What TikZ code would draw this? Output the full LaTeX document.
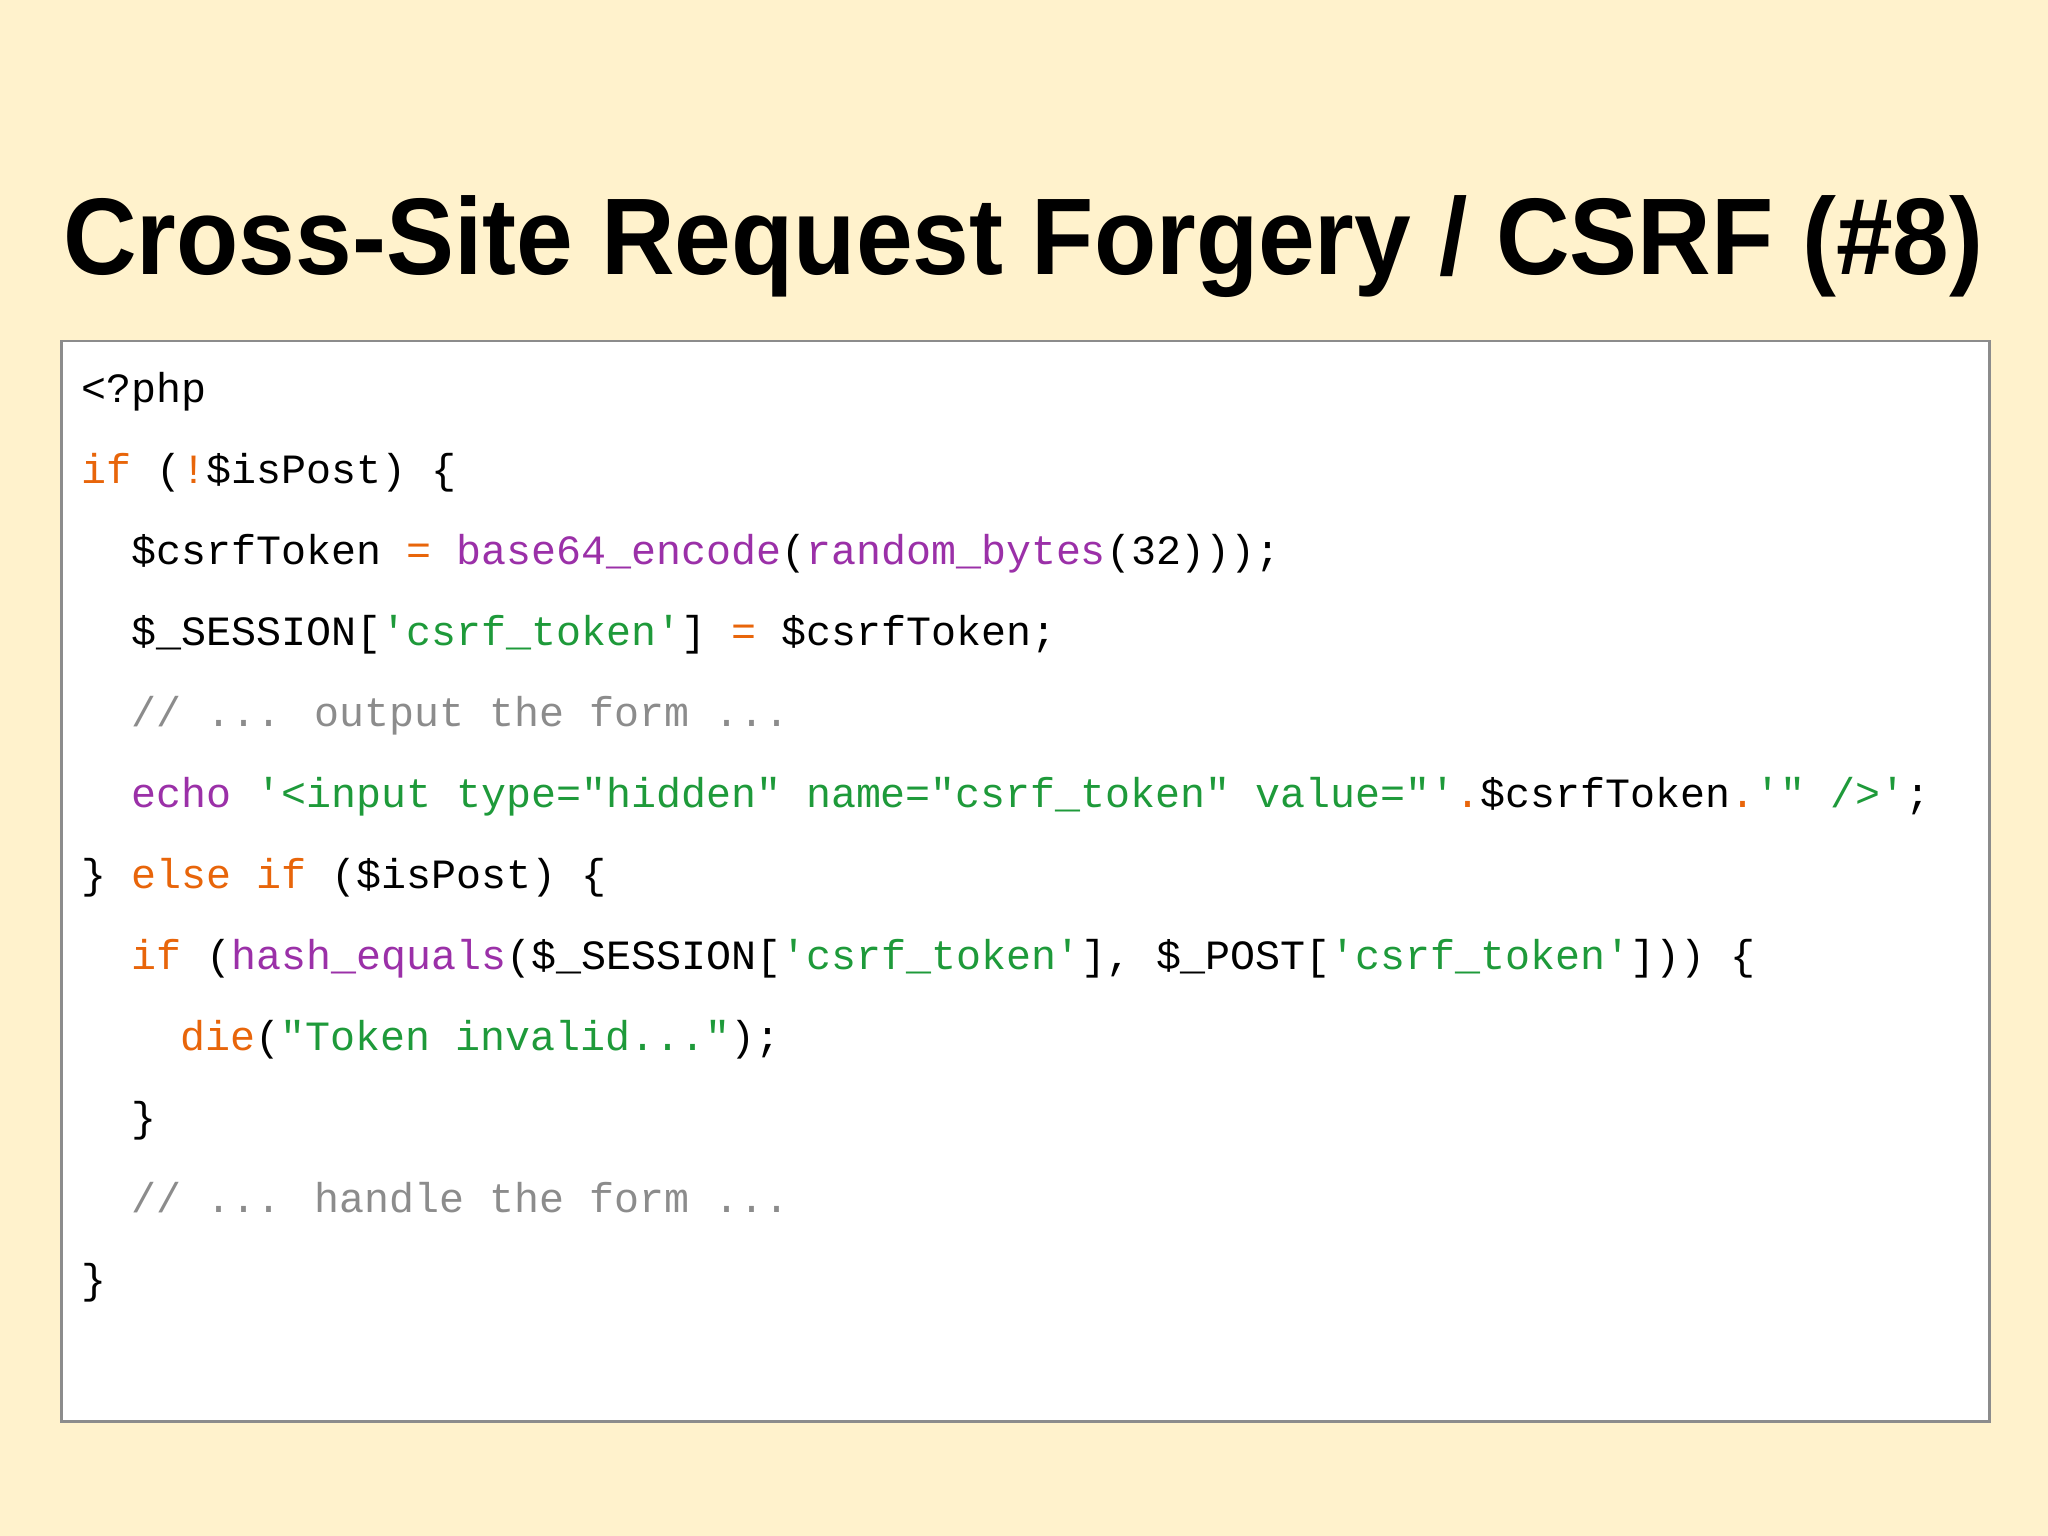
\documentclass[tikz,border=0pt]{standalone}
\usepackage{fontspec}
\usepackage{graphicx}
\setmainfont{Liberation Sans}
\newfontfamily\codefont{Liberation Mono}
\definecolor{bg}{HTML}{FFF2CC}
\definecolor{kw}{HTML}{E8650A}
\definecolor{fn}{HTML}{9B30A8}
\definecolor{st}{HTML}{1E9A3A}
\definecolor{cm}{HTML}{8C8C8C}
\newcommand{\K}[1]{\textcolor{kw}{#1}}
\newcommand{\F}[1]{\textcolor{fn}{#1}}
\newcommand{\Sq}[1]{\textcolor{st}{#1}}
\newcommand{\Cm}[1]{\textcolor{cm}{#1}}
\begin{document}
\begin{tikzpicture}[x=0.013061cm,y=-0.013061cm,
  codeline/.style={anchor=base west,inner sep=0pt,font=\codefont\fontsize{11.85}{14}\selectfont}]
\useasboundingbox (0,0) rectangle (1568,1176);
\fill[bg] (0,0) rectangle (1568,1176);
\node[anchor=base west,inner sep=0pt,font=\bfseries\fontsize{31}{36}\selectfont] (title) at (48,210) {\resizebox{19.2cm}{\height}{Cross-Site Request Forgery / CSRF (\#8)}};
\node[draw=black!45,fill=white,line width=0.8pt,minimum width=1476*0.013061cm,minimum height=827*0.013061cm,anchor=north west,inner sep=0pt] (box) at (46,260) {};
\node[codeline] (l1) at (62,308) {<?php};
\node[codeline] (l2) at (62,370) {\K{if} (\K{!}\$isPost) \{};
\node[codeline] (l3) at (100,432) {\$csrfToken \K{=} \F{base64\_encode}(\F{random\_bytes}(32)));};
\node[codeline] (l4) at (100,494) {\$\_SESSION[\Sq{'csrf\_token'}] \K{=} \$csrfToken;};
\node[codeline] (l5) at (100,556) {\Cm{// ... output the form ...}};
\node[codeline] (l6) at (100,618) {\F{echo} \Sq{'<input type="hidden" name="csrf\_token" value="'}\K{.}\$csrfToken\K{.}\Sq{'" />'};};
\node[codeline] (l7) at (62,680) {\} \K{else} \K{if} (\$isPost) \{};
\node[codeline] (l8) at (100,742) {\K{if} (\F{hash\_equals}(\$\_SESSION[\Sq{'csrf\_token'}], \$\_POST[\Sq{'csrf\_token'}])) \{};
\node[codeline] (l9) at (138,804) {\K{die}(\Sq{"Token invalid..."});};
\node[codeline] (l10) at (100,866) {\}};
\node[codeline] (l11) at (100,928) {\Cm{// ... handle the form ...}};
\node[codeline] (l12) at (62,990) {\}};
\end{tikzpicture}
\end{document}
